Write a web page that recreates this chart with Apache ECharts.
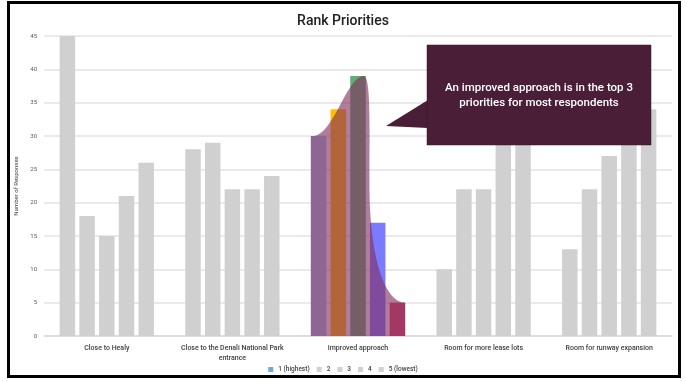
<!DOCTYPE html>
<html><head><meta charset="utf-8">
<script src="https://cdn.jsdelivr.net/npm/echarts@6/dist/echarts.min.js"></script>
<style>html,body{margin:0;padding:0;background:#fff}#c{width:686px;height:381px}</style>
</head><body><div id="c"></div>
<script>
// ---- data ----
const categories = ['Close to Healy', 'Close to the Denali National Park\nentrance', 'Improved approach', 'Room for more lease lots', 'Room for runway expansion'];
const rankNames = ['1 (highest)', '2', '3', '4', '5 (lowest)'];
const rank1 = [45, 28, 30, 10, 13];
const rank2 = [18, 29, 34, 22, 22];
const rank3 = [15, 22, 39, 22, 27];
const rank4 = [21, 22, 17, 31, 31];
const rank5 = [26, 24, 5, 33, 34];
const yMin = 0, yMax = 45, yStep = 5;
const highlightIndex = 2;
const calloutText = 'An improved approach is in the top 3\npriorities for most respondents';

// ---- styles ----
const GREY = '#d0d0d0';
const rankColors = ['#9dc3e6', '#ffc000', '#5fae6e', '#7b7bff', '#d84a70'];
const FONT = 'Roboto, "Liberation Sans", sans-serif';
const BAR_W = 15.5, BAR_GAP = 4.2;

const ranks = [rank1, rank2, rank3, rank4, rank5];

const barSeries = ranks.map((vals, r) => ({
  name: rankNames[r],
  type: 'bar',
  barWidth: BAR_W,
  barGap: (BAR_GAP / BAR_W * 100).toFixed(1) + '%',
  itemStyle: { color: r === 0 ? '#6fa8dc' : GREY },
  data: vals.map((v, i) => ({
    value: v,
    itemStyle: { color: i === highlightIndex ? rankColors[r] : GREY }
  })),
  z: 2
}));

function cubic(p0, p1, p2, p3, n) {
  const out = [];
  for (let k = 1; k <= n; k++) {
    const t = k / n, u = 1 - t;
    out.push([
      u*u*u*p0[0] + 3*u*u*t*p1[0] + 3*u*t*t*p2[0] + t*t*t*p3[0],
      u*u*u*p0[1] + 3*u*u*t*p1[1] + 3*u*t*t*p2[1] + t*t*t*p3[1]
    ]);
  }
  return out;
}

const overlaySeries = {
  type: 'custom',
  z: 5,
  silent: true,
  data: [[highlightIndex]],
  renderItem: function (params, api) {
    const idx = api.value(0);
    const vals = ranks.map(r => r[idx]);
    const cx = api.coord([idx, 0])[0];
    const y = v => api.coord([idx, v])[1];
    const pitch = BAR_W + BAR_GAP;
    const xL = cx - 2 * pitch - BAR_W / 2;
    const xR = cx + 2 * pitch + BAR_W / 2;
    const y0 = y(0), y1 = y(vals[0]), yPk = y(Math.max(...vals)), y5 = y(vals[4]);
    const pk = [cx + 6, yPk];
    const mid = [cx + 2 * pitch - BAR_W/2 - 20, yPk + 0.55 * (y5 - yPk)];
    let pts = [[xL, y0], [xL, y1]];
    pts = pts.concat(cubic([xL, y1], [xL + 22, y1 + 3], [cx - 12, yPk], pk, 24));
    pts = pts.concat(cubic(pk, [pk[0] + 8, yPk], [mid[0] - 1, yPk + 0.33 * (y5 - yPk)], mid, 16));
    pts = pts.concat(cubic(mid, [mid[0] + 2, mid[1] + 60], [xR - 20, y5], [xR, y5], 16));
    pts.push([xR, y0]);
    return {
      type: 'polygon',
      shape: { points: pts },
      style: { fill: 'rgba(130,45,95,0.62)' }
    };
  }
};

const chart = echarts.init(document.getElementById('c'), null, { renderer: 'canvas' });
chart.setOption({
  animation: false,
  backgroundColor: '#fff',
  title: {
    text: 'Rank Priorities', left: 'center', top: 9,
    textStyle: { fontFamily: FONT, fontSize: 14, fontWeight: 500, color: '#222' }
  },
  legend: {
    data: rankNames, bottom: 3, left: 'center',
    icon: 'rect', itemWidth: 5, itemHeight: 5, itemGap: 7,
    textStyle: { fontFamily: FONT, fontSize: 6.5, fontWeight: 500, color: '#444' }
  },
  grid: { left: 44, right: 14, top: 36, bottom: 45 },
  xAxis: {
    type: 'category', data: categories,
    axisLine: { lineStyle: { color: '#d9d9d9', width: 1.5 } },
    axisTick: { show: false },
    axisLabel: { fontFamily: FONT, fontSize: 7, fontWeight: 500, color: '#404040', margin: 7, lineHeight: 10, interval: 0 }
  },
  yAxis: {
    type: 'value', min: yMin, max: yMax, interval: yStep,
    name: 'Number of Responses', nameLocation: 'middle', nameGap: 15,
    nameTextStyle: { fontFamily: FONT, fontSize: 6, color: '#404040' },
    axisLine: { show: false }, axisTick: { show: false },
    axisLabel: { fontFamily: FONT, fontSize: 6, color: '#595959', margin: 7 },
    splitLine: { lineStyle: { color: '#e3e3e3', width: 1.5 } }
  },
  series: barSeries.concat([overlaySeries]),
  graphic: [
    { type: 'rect', shape: { x: 8.5, y: 2.5, width: 671, height: 374 }, style: { fill: 'none', stroke: '#000', lineWidth: 3 }, z: 100, silent: true },
    { type: 'polygon', shape: { points: [[386, 126], [428, 100], [428, 128]] }, style: { fill: '#4b1e38' }, z: 100 },
    { type: 'rect', shape: { x: 427, y: 45, width: 224, height: 100 }, style: { fill: '#4b1e38', stroke: '#3a1629', lineWidth: 0.5 }, z: 100 },
    { type: 'text', x: 539, y: 96, z: 101,
      style: { text: calloutText, fill: '#fff', font: '500 11.5px ' + FONT, align: 'center', verticalAlign: 'middle', lineHeight: 15 } }
  ]
});
</script></body></html>
